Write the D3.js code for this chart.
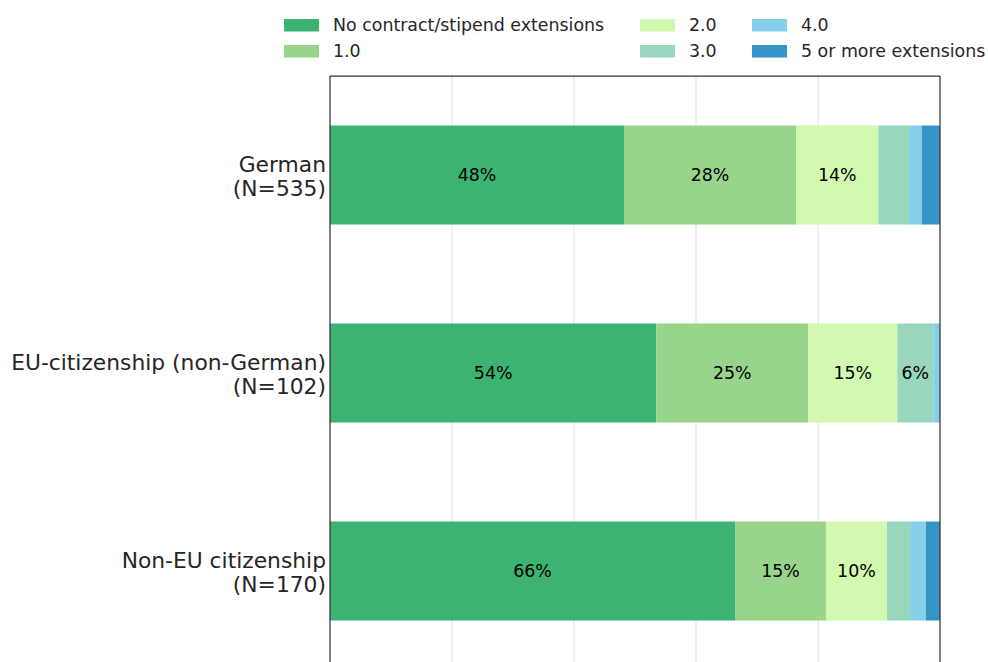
<!DOCTYPE html>
<html>
<head>
<meta charset="utf-8">
<script src="https://cdn.jsdelivr.net/npm/d3@7"></script>
<style>
  html, body { margin: 0; padding: 0; background: #ffffff; }
  #chart { width: 988px; height: 662px; overflow: hidden; }
</style>
</head>
<body>
<div id="chart"></div>
<script>
// groups, top to bottom
const groups = ["German", "EU-citizenship (non-German)", "Non-EU citizenship"];
const groupN = [535, 102, 170];

// extension categories (stack order, left to right)
const categories = ["No contract/stipend extensions", "1.0", "2.0", "3.0", "4.0", "5 or more extensions"];
const catColors = ["#3cb371", "#98d48c", "#d2f9b0", "#98d7bb", "#87ceeb", "#3594c7"];

// share of each group in percent, one array per category
const noExt = [48.2, 53.5, 66.4];
const ext1 = [28.2, 24.9, 14.9];
const ext2 = [13.5, 14.6, 10.0];
const ext3 = [5.0, 5.9, 3.8];
const ext4 = [2.1, 1.1, 2.6];
const ext5 = [3.0, 0.0, 2.3];

const xTicks = [0, 20, 40, 60, 80, 100];

const seriesValues = [noExt, ext1, ext2, ext3, ext4, ext5];

function makeChart(containerId) {
  const width = 988, height = 662;
  const margin = { top: 76, left: 330, right: 48 };
  const plotBottom = 670; // the frame runs past the bottom edge of the picture

  const svg = d3.select(`#${containerId}`)
    .append("svg")
    .attr("width", width)
    .attr("height", height)
    .style("font-family", "'DejaVu Sans', sans-serif");

  const rows = groups.map((g, i) => {
    const row = { group: g, n: groupN[i] };
    categories.forEach((c, j) => { row[c] = seriesValues[j][i]; });
    return row;
  });

  const stacked = d3.stack().keys(categories)(rows);

  const x = d3.scaleLinear()
    .domain([0, 100])
    .range([margin.left, width - margin.right]);

  const y = d3.scaleBand()
    .domain(groups)
    .range([margin.top, plotBottom])
    .paddingInner(0.5)
    .paddingOuter(0.25);

  const color = d3.scaleOrdinal().domain(categories).range(catColors);

  // vertical grid
  svg.append("g")
    .selectAll("line")
    .data(xTicks.slice(1, -1))
    .enter()
    .append("line")
    .attr("x1", d => x(d))
    .attr("x2", d => x(d))
    .attr("y1", margin.top)
    .attr("y2", plotBottom)
    .attr("stroke", "#e0e0e0")
    .attr("stroke-width", 1);

  // stacked bars
  const layer = svg.append("g")
    .selectAll("g")
    .data(stacked)
    .enter()
    .append("g")
    .attr("fill", d => color(d.key));

  layer.selectAll("rect")
    .data(d => d)
    .enter()
    .append("rect")
    .attr("x", d => x(d[0]))
    .attr("y", d => y(d.data.group))
    .attr("width", d => x(d[1]) - x(d[0]))
    .attr("height", y.bandwidth());

  // percent labels on the wider segments
  const labelData = [];
  stacked.forEach(s => s.forEach(d => {
    if (d[1] - d[0] >= 5.5) labelData.push(d);
  }));

  svg.append("g")
    .selectAll("text")
    .data(labelData)
    .enter()
    .append("text")
    .attr("x", d => (x(d[0]) + x(d[1])) / 2)
    .attr("y", d => y(d.data.group) + y.bandwidth() / 2)
    .attr("dy", "0.35em")
    .attr("text-anchor", "middle")
    .attr("fill", "#000000")
    .style("font-size", "17.4px")
    .text(d => d3.format(".0f")(d[1] - d[0]) + "%");

  // y labels, two lines each
  const yLab = svg.append("g")
    .selectAll("text")
    .data(rows)
    .enter()
    .append("text")
    .attr("x", margin.left - 4)
    .attr("y", d => y(d.group) + y.bandwidth() / 2)
    .attr("text-anchor", "end")
    .attr("fill", "#262626")
    .style("font-size", "21.8px");

  yLab.append("tspan")
    .attr("x", margin.left - 4)
    .attr("dy", "-0.12em")
    .text(d => d.group);

  yLab.append("tspan")
    .attr("x", margin.left - 4)
    .attr("dy", "1.1em")
    .text(d => `(N=${d.n})`);

  // frame
  const frame = svg.append("g")
    .attr("stroke", "#333333")
    .attr("stroke-width", 1.25)
    .attr("fill", "none");
  frame.append("line")
    .attr("x1", x(0)).attr("x2", x(0))
    .attr("y1", margin.top).attr("y2", plotBottom);
  frame.append("line")
    .attr("x1", x(100)).attr("x2", x(100))
    .attr("y1", margin.top).attr("y2", plotBottom);
  frame.append("line")
    .attr("x1", x(0)).attr("x2", x(100))
    .attr("y1", margin.top).attr("y2", margin.top);

  // legend: 3 columns, filled column by column
  const colX = [284, 640, 752];
  const rowY = [25, 51];
  const legend = svg.append("g")
    .selectAll("g")
    .data(categories)
    .enter()
    .append("g")
    .attr("transform", (d, i) => `translate(${colX[Math.floor(i / 2)]},${rowY[i % 2]})`);

  legend.append("rect")
    .attr("x", 0)
    .attr("y", -6)
    .attr("width", 35)
    .attr("height", 12.5)
    .attr("fill", d => color(d));

  legend.append("text")
    .attr("x", 49)
    .attr("dy", "0.35em")
    .attr("fill", "#262626")
    .style("font-size", "17.4px")
    .text(d => d);
}

makeChart("chart");
</script>
</body>
</html>
